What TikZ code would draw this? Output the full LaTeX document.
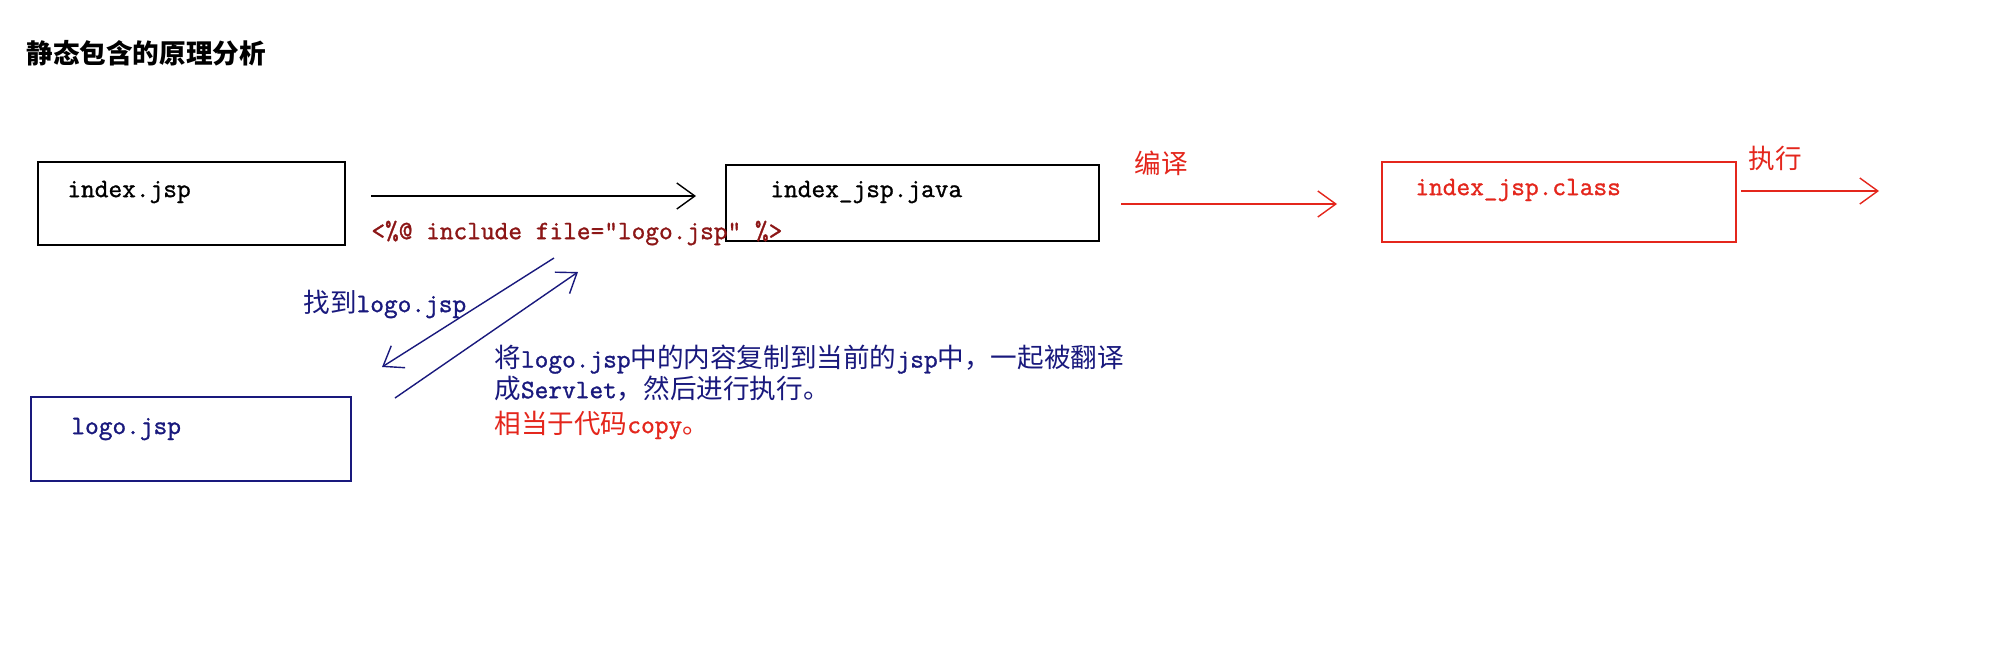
\documentclass[tikz,border=0pt]{standalone}
\usepackage{fontspec}
\newfontfamily\cjk{Noto Sans CJK SC}
\setmonofont[FakeBold=1.2]{Latin Modern Mono}
\usetikzlibrary{arrows.meta}
\definecolor{navy}{RGB}{25,25,125}
\definecolor{jred}{RGB}{228,38,28}
\definecolor{dred}{RGB}{140,22,22}
\newcommand\zh[1]{{\cjk #1}}
\tikzset{
  box/.style={draw, line width=0.9pt, rectangle, inner sep=0pt, anchor=north west},
  txt/.style={anchor=west, inner sep=0pt, font=\ttfamily\fontsize{13.3}{12}\selectfont},
  arr/.style={line width=0.7pt, -{Straight Barb[length=9pt,width=13pt,line width=0.7pt]}},
}
\begin{document}
\begin{tikzpicture}[x=0.5pt,y=-0.5pt]
\useasboundingbox[fill=white] (0,0) rectangle (2003,666);
% title
\node[anchor=west, inner sep=0pt, font=\cjk\bfseries\fontsize{13.3}{16}\selectfont] (title) at (26,53) {静态包含的原理分析};
% boxes
\node[box, minimum width=153.5pt, minimum height=41.5pt] (idx) at (37,161) {};
\node[box, minimum width=186.5pt, minimum height=38pt] (java) at (725,164) {};
\node[box, draw=jred, minimum width=177pt, minimum height=40pt] (cls) at (1381,161) {};
\node[box, draw=navy, minimum width=160pt, minimum height=42pt] (logo) at (30,396) {};
% box texts
\node[txt] (idxt) at (67,192) {index.jsp};
\node[txt] (javat) at (770,192) {index\_jsp.java};
\node[txt, text=jred] (clst) at (1415,190) {index\_jsp.class};
\node[txt, text=navy] (logot) at (71,429) {logo.jsp};
% labels
\node[txt, text=dred] (inc) at (371,233) {<\%@ include file="logo.jsp" \%>};
\node[txt, text=jred] (bianyi) at (1134,163) {\zh{编译}};
\node[txt, text=jred] (zhixing) at (1748,158) {\zh{执行}};
\node[txt, text=navy] (find) at (303,304) {\zh{找到}logo.jsp};
\node[txt, text=navy, align=left] (copy) at (494,373) {\zh{将}logo.jsp\zh{中的内容复制到当前的}jsp\zh{中，一起被翻译}\\\zh{成}Servlet\zh{，然后进行执行。}};
\node[txt, text=jred] (same) at (494,425) {\zh{相当于代码}copy\zh{。}};
% arrow endpoints
\coordinate (a1s) at (371,196);
\coordinate (a1e) at (696,196);
\coordinate (r1s) at (1121,204);
\coordinate (r1e) at (1337,204);
\coordinate (r2s) at (1741,191);
\coordinate (r2e) at (1879,191);
\coordinate (dAs) at (554,258);
\coordinate (dAe) at (382,367);
\coordinate (dBs) at (395,398);
\coordinate (dBe) at (578,272);
% arrows
\draw[arr] (a1s) -- (a1e);
\draw[arr, jred] (r1s) -- (r1e);
\draw[arr, jred] (r2s) -- (r2e);
\draw[arr, navy] (dAs) -- (dAe);
\draw[arr, navy] (dBs) -- (dBe);
\end{tikzpicture}
\end{document}
